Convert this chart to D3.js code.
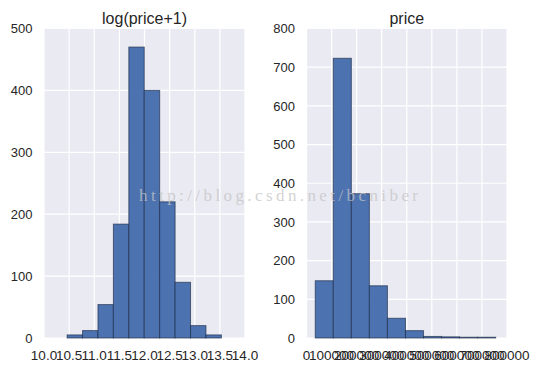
<!DOCTYPE html>
<html>
<head>
<meta charset="utf-8">
<script src="https://cdn.jsdelivr.net/npm/d3@7"></script>
<style>
  body { margin: 0; background: #fff; }
  svg text { font-family: "Liberation Sans", Arial, sans-serif; }
</style>
</head>
<body>
<div id="chart"></div>
<script>
// histogram counts (10 bins each)
const logCounts = [5, 12, 54, 184, 470, 400, 220, 90, 20, 5];
const logRange = [10.46, 13.53];
const logXTicks = [10.0, 10.5, 11.0, 11.5, 12.0, 12.5, 13.0, 13.5, 14.0];
const logYTicks = [0, 100, 200, 300, 400, 500];

const priceCounts = [148, 723, 373, 135, 51, 19, 4, 3, 2, 2];
const priceRange = [34900, 755000];
const priceXTicks = [0, 100000, 200000, 300000, 400000, 500000, 600000, 700000, 800000];
const priceYTicks = [0, 100, 200, 300, 400, 500, 600, 700, 800];

const svgWidth = 541;
const svgHeight = 372;

const svg = d3.select("#chart")
  .append("svg")
  .attr("width", svgWidth)
  .attr("height", svgHeight);

function drawHist(opts) {
  const { left, right, top, bottom, counts, range, xTicks, yTicks, xFmt, title } = opts;

  const x = d3.scaleLinear([xTicks[0], xTicks[xTicks.length - 1]], [left, right]);
  const y = d3.scaleLinear([yTicks[0], yTicks[yTicks.length - 1]], [bottom, top]);

  const binW = (range[1] - range[0]) / counts.length;
  const bins = counts.map((c, i) => ({ x0: range[0] + i * binW, x1: range[0] + (i + 1) * binW, c }));

  const g = svg.append("g");

  // background
  g.append("rect")
    .attr("x", left).attr("y", top)
    .attr("width", right - left).attr("height", bottom - top)
    .attr("fill", "#eaeaf2");

  // grid
  g.selectAll(".vgrid")
    .data(xTicks)
    .enter().append("line")
    .attr("x1", d => x(d)).attr("x2", d => x(d))
    .attr("y1", top).attr("y2", bottom)
    .attr("stroke", "#fff").attr("stroke-width", 1.2);

  g.selectAll(".hgrid")
    .data(yTicks)
    .enter().append("line")
    .attr("x1", left).attr("x2", right)
    .attr("y1", d => y(d)).attr("y2", d => y(d))
    .attr("stroke", "#fff").attr("stroke-width", 1.2);

  // bars
  g.selectAll(".bar")
    .data(bins)
    .enter().append("rect")
    .attr("x", d => x(d.x0))
    .attr("y", d => y(d.c))
    .attr("width", d => x(d.x1) - x(d.x0))
    .attr("height", d => y(0) - y(d.c))
    .attr("fill", "#4c72b0")
    .attr("stroke", "#1c2a45")
    .attr("stroke-opacity", 0.65)
    .attr("stroke-width", 1);

  // x tick labels
  g.selectAll(".xt")
    .data(xTicks)
    .enter().append("text")
    .attr("x", d => x(d))
    .attr("y", bottom + 22)
    .attr("text-anchor", "middle")
    .style("font-size", "13.5px")
    .style("fill", "#262626")
    .text(xFmt);

  // y tick labels
  g.selectAll(".yt")
    .data(yTicks)
    .enter().append("text")
    .attr("x", left - 11.5)
    .attr("y", d => y(d))
    .attr("dy", "0.36em")
    .attr("text-anchor", "end")
    .style("font-size", "13px")
    .style("fill", "#262626")
    .text(d => d);

  // title
  g.append("text")
    .attr("x", (left + right) / 2)
    .attr("y", top - 5)
    .attr("text-anchor", "middle")
    .style("font-size", "16px")
    .style("fill", "#262626")
    .text(title);
}

drawHist({
  left: 44, right: 245, top: 28.5, bottom: 338,
  counts: logCounts, range: logRange,
  xTicks: logXTicks, yTicks: logYTicks,
  xFmt: d => d.toFixed(1),
  title: "log(price+1)"
});

drawHist({
  left: 306.5, right: 507, top: 28.5, bottom: 338,
  counts: priceCounts, range: priceRange,
  xTicks: priceXTicks, yTicks: priceYTicks,
  xFmt: d => d,
  title: "price"
});

// watermark
svg.append("text")
  .attr("x", 139)
  .attr("y", 201)
  .attr("textLength", 279)
  .attr("lengthAdjust", "spacing")
  .style("font-family", "'Liberation Serif', 'DejaVu Serif', serif")
  .style("font-size", "17px")
  .style("fill", "#c4c4c4")
  .style("fill-opacity", 0.75)
  .text("http://blog.csdn.net/bcniber");
</script>
</body>
</html>
